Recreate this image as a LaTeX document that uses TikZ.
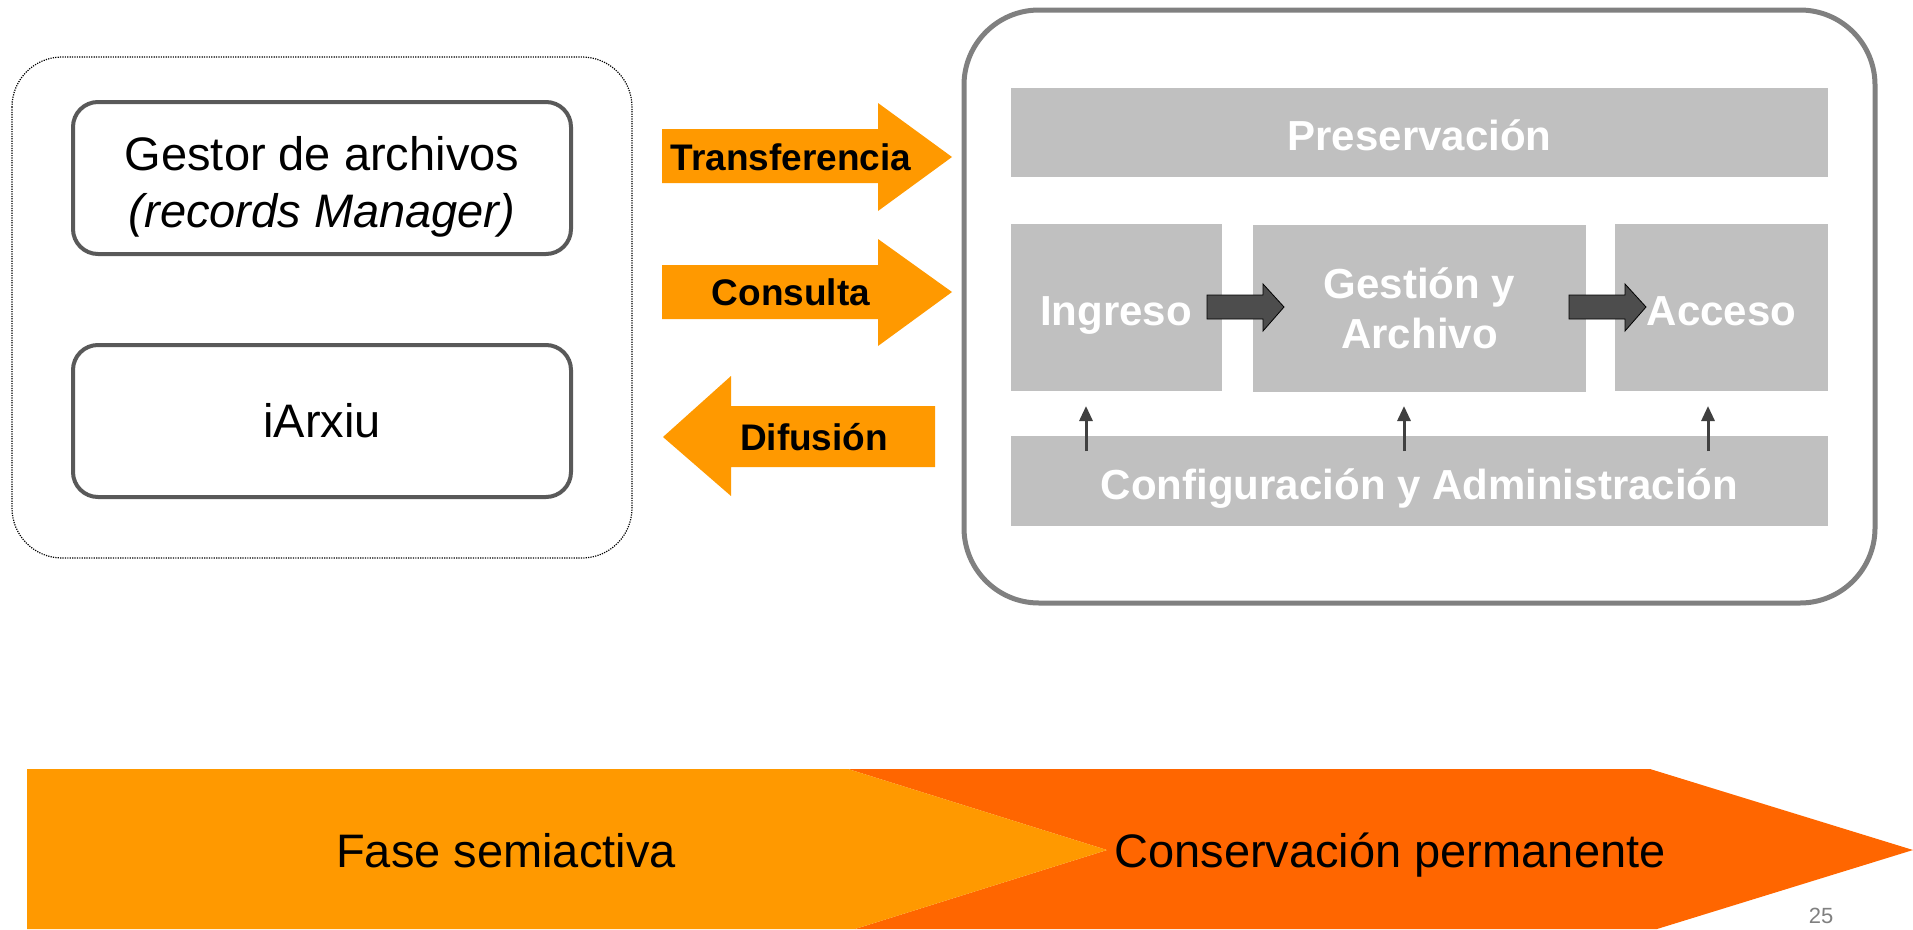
\documentclass[tikz,border=0pt]{standalone}
\usepackage{fontspec}
\setmainfont{Liberation Sans}
\usetikzlibrary{arrows.meta}
\definecolor{org}{HTML}{FF9900}
\definecolor{orgdark}{HTML}{FF6600}
\definecolor{gbox}{HTML}{C0C0C0}
\definecolor{framegray}{HTML}{808080}
\definecolor{dk}{HTML}{595959}
\definecolor{dkarrow}{HTML}{4D4D4D}
\definecolor{uparrow}{HTML}{404040}
\begin{document}
\begin{tikzpicture}[x=1pt,y=-1pt,
  leftbox/.style={draw=dk, line width=4pt, rounded corners=25pt, fill=white,
    minimum width=498pt, minimum height=152pt, inner sep=0pt, align=center,
    font=\fontsize{47}{57}\selectfont},
  graybox/.style={fill=gbox, inner sep=0pt, text=white, align=center,
    font=\bfseries\fontsize{42}{50}\selectfont},
  oneline/.style={text height=36pt, text depth=0pt},
  orglabel/.style={font=\bfseries\fontsize{37}{40}\selectfont, text=black, inner sep=0pt},
  phaselabel/.style={font=\fontsize{47}{57}\selectfont, text=black, inner sep=0pt,
    text height=34pt, text depth=0pt},
  blockarrow/.style={fill=dkarrow, draw=black, line width=0.8pt},
  smallup/.style={draw=uparrow, line width=3pt, -{Triangle[width=13pt,length=15pt]}}
]
\useasboundingbox (0,0) rectangle (1913,929);

% left dotted group
\draw[line width=1.2pt, dash pattern=on 1.2pt off 1.2pt, rounded corners=50pt] (12,57) rectangle (632,558);
\node[leftbox] (gestor) at (322,178) {\rule{0pt}{52pt}Gestor de archivos\\ \textit{(records Manager)}};
\node[leftbox] (iarxiu) at (322,421) {iArxiu};

% orange arrows
\fill[org] (662,129) -- (878,129) -- (878,103) -- (952,157) -- (878,211) -- (878,183) -- (662,183) -- cycle;
\node[orglabel] (transf) at (791,157) {Transferencia};
\fill[org] (662,265) -- (878,265) -- (878,239) -- (952,292) -- (878,346) -- (878,319) -- (662,319) -- cycle;
\node[orglabel] (consulta) at (791,292) {Consulta};
\fill[org] (935,406) -- (731,406) -- (731,376) -- (663,437) -- (731,496) -- (731,467) -- (935,467) -- cycle;
\node[orglabel] (difusion) at (814,437) {Difusión};

% right system frame
\draw[framegray, line width=5pt, rounded corners=75pt] (964,10) rectangle (1875,603);
\node[graybox, oneline, minimum width=817pt, minimum height=89pt] (pres) at (1419.5,132.5) {Preservación};
\node[graybox, oneline, minimum width=211pt, minimum height=167pt] (ingreso) at (1116,307) {Ingreso};
\node[graybox, minimum width=333pt, minimum height=167pt] (gestion) at (1419.5,308) {Gestión y\\Archivo};
\node[graybox, oneline, minimum width=213pt, minimum height=167pt] (acceso) at (1721.5,307) {Acceso};
\node[graybox, oneline, minimum width=817pt, minimum height=90pt] (config) at (1419.5,481) {Configuración y Administración};

% dark block arrows
\filldraw[blockarrow] (1207,295) -- (1263,295) -- (1263,284) -- (1284,307) -- (1263,331) -- (1263,319) -- (1207,319) -- cycle;
\filldraw[blockarrow] (1569,295) -- (1625,295) -- (1625,284) -- (1646,307) -- (1625,331) -- (1625,319) -- (1569,319) -- cycle;

% small up arrows
\coordinate (c1) at (1086,451); \coordinate (t1) at (1086,406);
\coordinate (c2) at (1404,451); \coordinate (t2) at (1404,406);
\coordinate (c3) at (1708,451); \coordinate (t3) at (1708,406);
\draw[smallup] (c1) -- (t1);
\draw[smallup] (c2) -- (t2);
\draw[smallup] (c3) -- (t3);

% bottom phases
\fill[orgdark] (848,769) -- (1650,769) -- (1913,850) -- (1657,929) -- (855,929) -- (1107,850) -- cycle;
\fill[org] (27,769) -- (848,769) -- (1107,850) -- (855,929) -- (27,929) -- cycle;
\node[phaselabel] (fase) at (506,850) {Fase semiactiva};
\node[phaselabel] (conserv) at (1390,850) {Conservación permanente};
\node[font=\fontsize{22}{24}\selectfont, text=framegray, inner sep=0pt] (page) at (1821,916) {25};
\end{tikzpicture}
\end{document}
